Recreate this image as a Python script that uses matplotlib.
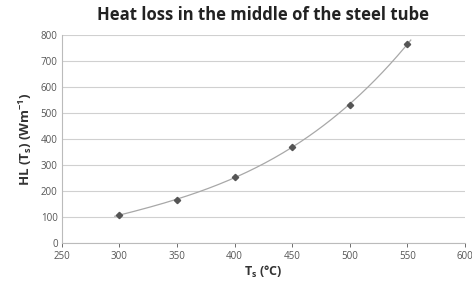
import numpy as np
import matplotlib.pyplot as plt

plt.rcParams['font.family'] = ['Open Sans', 'DejaVu Sans']

# data
temps = [300, 350, 400, 450, 500, 550]
heat_loss = [108, 165, 253, 370, 531, 765]

xticks = [250, 300, 350, 400, 450, 500, 550, 600]
yticks = [0, 100, 200, 300, 400, 500, 600, 700, 800]

fig = plt.figure(figsize=(4.72, 2.93), dpi=100)
ax = fig.add_axes([0.131, 0.171, 0.854, 0.71])

# trendline through the points (polynomial fit)
coef = np.polyfit(temps, heat_loss, 3)
xs = np.linspace(296, 553, 200)
ax.plot(xs, np.polyval(coef, xs), color='#a8a8a8', lw=0.9, zorder=2)
ax.plot(temps, heat_loss, 'D', color='#555555', ms=3.2, zorder=3)

ax.set_xlim(250, 600)
ax.set_ylim(0, 800)
ax.set_xticks(xticks)
ax.set_yticks(yticks)
ax.tick_params(labelsize=7, colors='#555555', length=3, width=0.6, pad=3)
ax.tick_params(axis='y', length=0)
ax.grid(axis='y', color='#d0d0d0', lw=0.8)
ax.set_axisbelow(True)

for s in ['top', 'right']:
    ax.spines[s].set_visible(False)
for s in ['left', 'bottom']:
    ax.spines[s].set_color('#bbbbbb')
    ax.spines[s].set_linewidth(0.8)

ax.set_title('Heat loss in the middle of the steel tube', fontsize=12,
             fontweight='bold', color='#222222', pad=11)
ax.set_xlabel(r'T$_\mathregular{s}$ (°C)', fontsize=9, fontweight='bold',
              color='#333333', labelpad=1)
ax.set_ylabel(r'HL (T$_\mathregular{s}$) (Wm$^\mathregular{-1}$)', fontsize=9.5,
              fontweight='bold', color='#333333', labelpad=5)

fig.savefig('out.png', dpi=100)
